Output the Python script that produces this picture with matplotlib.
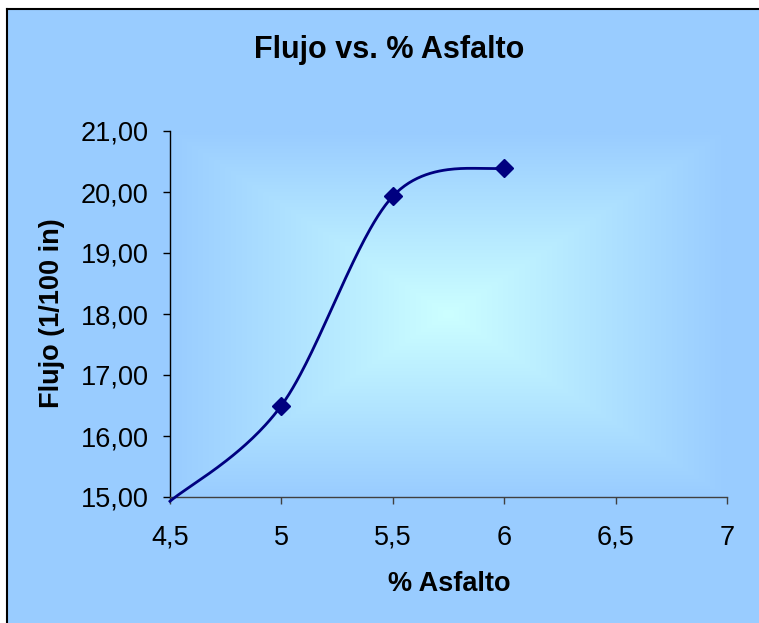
import numpy as np
import matplotlib
matplotlib.use("Agg")
import matplotlib.pyplot as plt
from matplotlib.ticker import FuncFormatter, MultipleLocator
from matplotlib.patches import Rectangle

# Data
asfalto = [4.5, 5.0, 5.5, 6.0]
flujo = [14.93, 16.50, 19.93, 20.40]

title = "Flujo vs. % Asfalto"
xlabel = "% Asfalto"
ylabel = "Flujo (1/100 in)"

BG = "#99CCFF"
CENTER = "#CCFFFF"
NAVY = "#000080"

plt.rcParams["font.family"] = ["Liberation Sans", "DejaVu Sans"]


def smooth_curve(xs, ys, n=60):
    """Piecewise cubic Bezier through the points (Catmull-Rom style tangents)."""
    p = np.column_stack([xs, ys]).astype(float)
    m = len(p)
    out = []
    for i in range(m - 1):
        p0 = p[i - 1] if i > 0 else p[i]
        p1, p2 = p[i], p[i + 1]
        p3 = p[i + 2] if i + 2 < m else p[i + 1]
        c1 = p1 + (p2 - p0) / 6.0
        c2 = p2 - (p3 - p1) / 6.0
        t = np.linspace(0, 1, n)[:, None]
        seg = ((1 - t) ** 3) * p1 + 3 * ((1 - t) ** 2) * t * c1 + 3 * (1 - t) * t ** 2 * c2 + t ** 3 * p2
        out.append(seg if i == 0 else seg[1:])
    return np.vstack(out)


fig = plt.figure(figsize=(7.59, 6.23), dpi=100, facecolor="white")
W, H = 759, 623

# Chart area background with its frame (top/left edges visible)
fig.patches.append(Rectangle((7 / W, 0), 1, 1 - 9 / H, transform=fig.transFigure,
                             facecolor=BG, edgecolor="none", zorder=-5))
fig.add_artist(plt.Line2D([7 / W, 7 / W], [0, 1 - 9 / H], transform=fig.transFigure,
                          color="black", lw=1.5))
fig.add_artist(plt.Line2D([7 / W, 1], [1 - 9 / H, 1 - 9 / H], transform=fig.transFigure,
                          color="black", lw=1.5))

ax = fig.add_axes([170 / W, 1 - 497 / H, (727 - 170) / W, (497 - 131) / H])
ax.set_zorder(2)
ax.set_xlim(4.5, 7)
ax.set_ylim(15, 21)

# Gradient fill of plot area: light centre fading to the blue edge
nx, ny = 400, 300
u = np.linspace(-1, 1, nx)
v = np.linspace(-1, 1, ny)
U, V = np.meshgrid(u, v)
tt = np.clip(np.maximum(np.abs(U), np.abs(V)), 0, 1)
c0 = np.array(matplotlib.colors.to_rgb(CENTER))
c1 = np.array(matplotlib.colors.to_rgb(BG))
img = c0[None, None, :] * (1 - tt[..., None]) + c1[None, None, :] * tt[..., None]
ax.imshow(img, extent=[4.5, 7, 15, 21], aspect="auto", zorder=0, interpolation="bilinear")
ax.set_facecolor(BG)

curve = smooth_curve(asfalto, flujo)
ax.plot(curve[:, 0], curve[:, 1], color=NAVY, lw=2.0, zorder=3, clip_on=False)
ymin = ax.get_ylim()[0]
vis = [(x, y) for x, y in zip(asfalto, flujo) if y >= ymin]
ax.plot([a for a, _ in vis], [b for _, b in vis], linestyle="none", marker="D",
        markersize=9.5, color=NAVY, zorder=4, clip_on=False)

for s in ["top", "right"]:
    ax.spines[s].set_visible(False)
ax.spines["left"].set_color("black")
ax.spines["bottom"].set_color("#404040")
ax.spines["left"].set_linewidth(1.0)
ax.spines["bottom"].set_linewidth(1.0)

ax.xaxis.set_major_locator(MultipleLocator(0.5))
ax.yaxis.set_major_locator(MultipleLocator(1))
ax.xaxis.set_major_formatter(FuncFormatter(lambda v, p: f"{v:g}".replace(".", ",")))
ax.yaxis.set_major_formatter(FuncFormatter(lambda v, p: f"{v:.2f}".replace(".", ",")))
ax.tick_params(axis="both", direction="out", length=5, width=1, labelsize=19.5)
ax.tick_params(axis="y", pad=10.5)
ax.tick_params(axis="x", colors="#404040", labelcolor="black", pad=15)

ax.set_xlabel(xlabel, fontsize=19.5, fontweight="bold", va="baseline")
ax.xaxis.set_label_coords(449 / W, 1 - 591 / H, transform=fig.transFigure)
ax.set_ylabel(ylabel, fontsize=19.5, fontweight="bold", va="center")
ax.yaxis.set_label_coords(52 / W, 1 - 313 / H, transform=fig.transFigure)
fig.text(389 / W, 1 - 58 / H, title, ha="center", va="baseline", fontsize=22, fontweight="bold")

fig.savefig("out.png", dpi=100, facecolor="white")
